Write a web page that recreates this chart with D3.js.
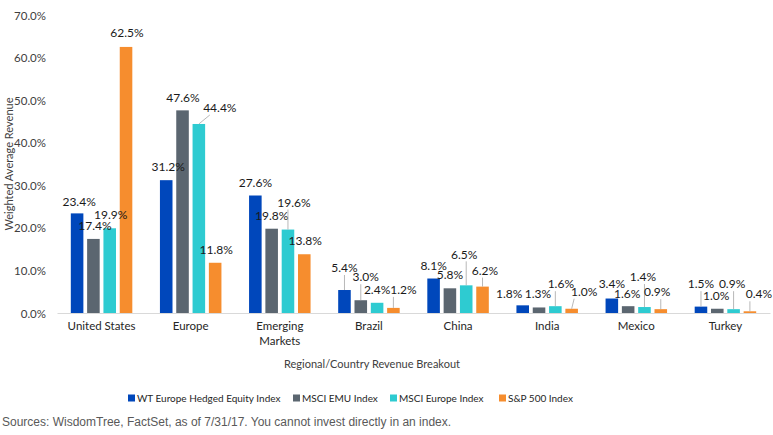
<!DOCTYPE html>
<html>
<head>
<meta charset="utf-8">
<script src="https://cdn.jsdelivr.net/npm/d3@7/dist/d3.min.js"></script>
<style>
body { margin: 0; background: #fff; }
svg text { font-family: Lato, "Liberation Sans", sans-serif; }
.tick-text { font-size: 11.5px; fill: #404040; }
.cat-text { font-size: 11.5px; fill: #262626; }
.val-text { font-size: 12px; fill: #1a1a1a; }
.axis-title { font-size: 11px; fill: #404040; }
.legend-text { font-size: 10px; fill: #262626; }
.source-text { font-family: "Liberation Sans", Arial, sans-serif; font-size: 12px; fill: #595959; }
</style>
</head>
<body>
<svg id="chart" width="773" height="435"></svg>
<script>
var categories = ['United States', 'Europe', 'Emerging Markets', 'Brazil', 'China', 'India', 'Mexico', 'Turkey'];
var series = ['WT Europe Hedged Equity Index', 'MSCI EMU Index', 'MSCI Europe Index', 'S&P 500 Index'];
var wtHedged = [23.4, 31.2, 27.6, 5.4, 8.1, 1.8, 3.4, 1.5];
var msciEmu = [17.4, 47.6, 19.8, 3.0, 5.8, 1.3, 1.6, 1.0];
var msciEurope = [19.9, 44.4, 19.6, 2.4, 6.5, 1.6, 1.4, 0.9];
var sp500 = [62.5, 11.8, 13.8, 1.2, 6.2, 1.0, 0.9, 0.4];
var yTicks = [0, 10, 20, 30, 40, 50, 60, 70];

var colors = ['#0047bb', '#5b6670', '#2ecbd1', '#f68d2e'];

// label nudges (dx, dy from bar top centre, leader line?) - hand placed like the excel original
var labelNudge = [
	[[2, -12, 0], [1.5, -13, 0], [1, -13, 0], [1, -14, 0]],
	[[2, -13, 0], [0.5, -13, 0], [21, -16, 1], [1, -13, 0]],
	[[0, -12.5, 0], [0, -13, 0], [6, -27, 1], [1, -13, 0]],
	[[0, -22, 1], [5, -23, 1], [0, -13, 0], [10, -18, 1]],
	[[0, -12.5, 0], [0, -14, 0], [-2, -31, 1], [2.5, -16, 1]],
	[[-13.5, -12, 0], [-1, -13.5, 0], [5.5, -22, 1], [12.5, -17, 1]],
	[[0, -14.5, 0], [-1, -12, 0], [-1.5, -30, 1], [-3.5, -17, 1]],
	[[0, -22.5, 1], [-1, -12.5, 0], [-1.5, -25, 1], [9, -17, 1]]
];

var allSeries = [wtHedged, msciEmu, msciEurope, sp500];
var data = categories.map(function(c, i){
	return { name: c, values: allSeries.map(function(s, j){ return { key: series[j], v: s[i], j: j, i: i }; }) };
});

var svg = d3.select('#chart');

var x0 = d3.scaleBand().domain(categories).range([57, 770]).paddingInner(0.31).paddingOuter(0.155);
var x1 = d3.scaleBand().domain(series).range([0, x0.bandwidth()]).paddingInner(0.23);
var y = d3.scaleLinear().domain([0, 70]).range([313, 15]);

// y tick labels (no gridlines in original)
var yAxis = d3.axisLeft(y).tickValues(yTicks).tickSize(0).tickPadding(0)
	.tickFormat(function(d){ return d.toFixed(1) + '%'; });
var gy = svg.append('g').attr('transform', 'translate(46,0)').call(yAxis);
gy.select('.domain').remove();
gy.selectAll('text').attr('class', 'tick-text').attr('dy', '0.35em');

// bars
var groups = svg.selectAll('.cat-group').data(data).enter()
	.append('g')
	.attr('class', 'cat-group')
	.attr('transform', function(d){ return 'translate(' + x0(d.name) + ',0)'; });

groups.selectAll('rect').data(function(d){ return d.values; }).enter()
	.append('rect')
	.attr('x', function(d){ return x1(d.key); })
	.attr('y', function(d){ return y(d.v); })
	.attr('width', x1.bandwidth())
	.attr('height', function(d){ return y(0) - y(d.v); })
	.attr('fill', function(d){ return colors[d.j]; });

// x axis line + category labels
var xAxis = d3.axisBottom(x0).tickSize(0).tickPadding(9);
var gx = svg.append('g').attr('transform', 'translate(0,' + y(0) + ')').call(xAxis);
gx.select('.domain').attr('stroke', '#d9d9d9').attr('stroke-width', 1.2);
gx.selectAll('text').attr('class', 'cat-text').text(null).each(function(d){
	var t = d3.select(this);
	var parts = d === 'Emerging Markets' ? ['Emerging', 'Markets'] : [d];
	parts.forEach(function(p, k){
		t.append('tspan').attr('x', 0).attr('dy', k === 0 ? '0.71em' : '1.25em').text(p);
	});
});

// value labels + leader lines
groups.each(function(d){
	var g = d3.select(this);
	d.values.forEach(function(v){
		var nudge = labelNudge[v.i][v.j];
		var bx = x1(v.key) + x1.bandwidth() / 2;
		var by = y(v.v);
		var lx = bx + nudge[0];
		var ly = by + nudge[1];
		if(nudge[2]){
			var ex = Math.max(lx - 10, Math.min(lx + 10, bx));
			g.append('line')
				.attr('x1', bx).attr('y1', by)
				.attr('x2', ex).attr('y2', ly + 7)
				.attr('stroke', '#a6a6a6').attr('stroke-width', 0.8);
		}
		g.append('text')
			.attr('class', 'val-text')
			.attr('x', lx).attr('y', ly)
			.attr('dy', '0.35em')
			.attr('text-anchor', 'middle')
			.text(v.v.toFixed(1) + '%');
	});
});

// axis titles
svg.append('text').attr('class', 'axis-title')
	.attr('transform', 'translate(9,164) rotate(-90)')
	.attr('text-anchor', 'middle')
	.attr('dy', '0.35em')
	.text('Weighted Average Revenue');
svg.append('text').attr('class', 'axis-title')
	.attr('x', 372).attr('y', 364).attr('dy', '0.35em')
	.attr('text-anchor', 'middle')
	.text('Regional/Country Revenue  Breakout');

// legend
var legendX = [128, 293, 390, 499];
var lg = svg.selectAll('.legend').data(series).enter()
	.append('g').attr('class', 'legend')
	.attr('transform', function(d, i){ return 'translate(' + legendX[i] + ',398)'; });
lg.append('rect').attr('x', 0).attr('y', -3.5).attr('width', 7).attr('height', 7)
	.attr('fill', function(d, i){ return colors[i]; });
lg.append('text').attr('class', 'legend-text').attr('x', 9).attr('dy', '0.35em').text(function(d){ return d; });

svg.append('text').attr('class', 'source-text')
	.attr('x', 2).attr('y', 422).attr('dy', '0.35em')
	.text('Sources: WisdomTree, FactSet, as of 7/31/17. You cannot invest directly in an index.');
</script>
</body>
</html>
